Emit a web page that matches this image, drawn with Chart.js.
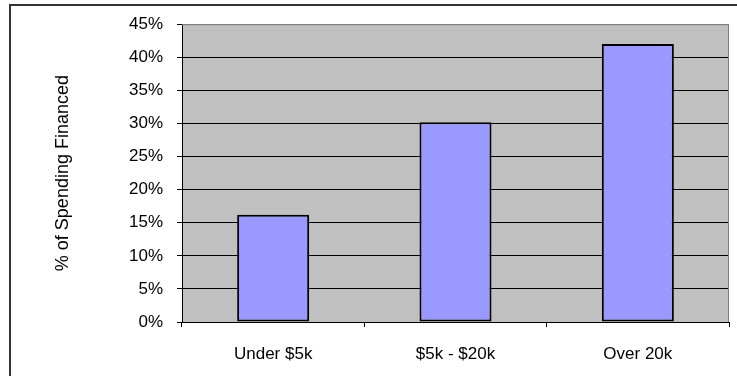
<!DOCTYPE html>
<html>
<head>
<meta charset="utf-8">
<script src="https://cdn.jsdelivr.net/npm/chart.js@4/dist/chart.umd.min.js"></script>
<style>
    html, body { margin: 0; padding: 0; background: #fff; overflow: hidden; }
    #wrap { position: relative; width: 737px; height: 376px; }
    #frame {
        position: absolute; left: 9px; top: 4px; width: 760px; height: 400px;
        border: 2px solid #333; box-sizing: border-box; pointer-events: none;
    }
    canvas { position: absolute; left: 0; top: 0; }
</style>
</head>
<body>
<div id="wrap">
    <canvas id="financeChart" width="737" height="376"></canvas>
    <div id="frame"></div>
</div>
<script>
// Share of spending financed, by purchase size
const categories = ['Under $5k', '$5k - $20k', 'Over 20k'];
const financedPct = [16.2, 30.2, 42.0];
const yTicks = [0, 5, 10, 15, 20, 25, 30, 35, 40, 45];

const FONT = 'Liberation Sans, Arial, sans-serif';

// Grey plot background with a thin darker frame on top and right
const plotBackground = {
    id: 'plotBackground',
    beforeDraw(chart) {
        const { ctx, chartArea: a } = chart;
        ctx.save();
        ctx.fillStyle = '#C0C0C0';
        ctx.fillRect(a.left, a.top, a.right - a.left, a.bottom - a.top);
        ctx.restore();
    },
    afterDatasetsDraw(chart) {
        const { ctx, chartArea: a } = chart;
        ctx.save();
        ctx.strokeStyle = '#808080';
        ctx.lineWidth = 1;
        ctx.beginPath();
        ctx.moveTo(a.left, a.top + 0.5);
        ctx.lineTo(a.right - 0.5, a.top + 0.5);
        ctx.lineTo(a.right - 0.5, a.bottom);
        ctx.stroke();
        ctx.restore();
    }
};

new Chart(document.getElementById('financeChart'), {
    type: 'bar',
    data: {
        labels: categories,
        datasets: [{
            data: financedPct,
            backgroundColor: '#9999FF',
            borderColor: '#000000',
            borderWidth: 2,
            borderSkipped: false,
            barPercentage: 0.395,
            categoryPercentage: 1
        }]
    },
    options: {
        responsive: false,
        animation: false,
        layout: { padding: { top: 24, right: 8, bottom: 0, left: 0 } },
        plugins: {
            legend: { display: false },
            tooltip: { enabled: false }
        },
        scales: {
            x: {
                afterFit(scale) { scale.height = 54; },
                grid: {
                    drawOnChartArea: false,
                    drawTicks: true,
                    tickLength: 5,
                    color: '#000'
                },
                border: { display: true, color: '#000', width: 1 },
                ticks: {
                    color: '#000',
                    padding: 17,
                    font: { family: FONT, size: 17 }
                }
            },
            y: {
                min: 0,
                max: 45,
                afterFit(scale) { scale.width = 182; },
                afterBuildTicks(scale) {
                    scale.ticks = yTicks.map(v => ({ value: v }));
                },
                grid: {
                    color: ctx => (ctx.tick && ctx.tick.value === 45 ? '#808080' : '#000'),
                    tickColor: '#000',
                    tickLength: 5,
                    lineWidth: 1
                },
                border: { display: true, color: '#000', width: 1 },
                ticks: {
                    color: '#000',
                    padding: 14,
                    callback: v => v + '%',
                    font: { family: FONT, size: 17 }
                },
                title: {
                    display: true,
                    text: '% of Spending Financed',
                    color: '#000',
                    padding: { top: 52, bottom: 0 },
                    font: { family: FONT, size: 18 }
                }
            }
        }
    },
    plugins: [plotBackground]
});
</script>
</body>
</html>
